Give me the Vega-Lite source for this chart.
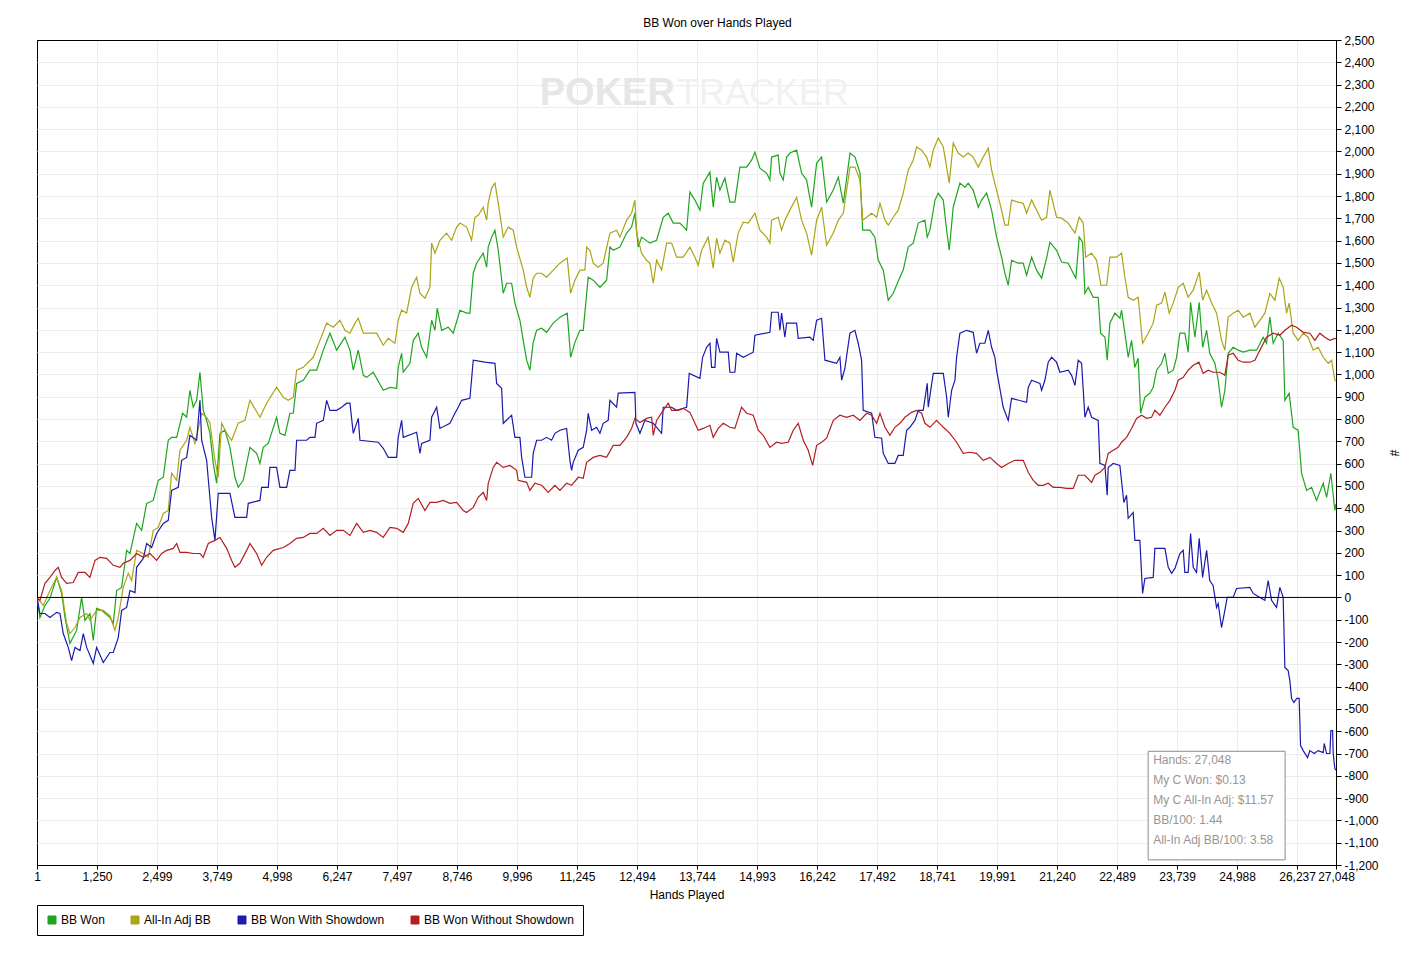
{
"$schema": "https://vega.github.io/schema/vega-lite/v6.json",
"width": 1299,
"height": 825,
"autosize": {"type": "none"},
"padding": {"left": 37, "top": 40, "right": 87, "bottom": 91},
"background": "white",
"title": {"text": "BB Won over Hands Played", "fontSize": 12, "fontWeight": "normal", "font": "Liberation Sans", "color": "black", "offset": 4, "dx": 31},
"config": {
  "view": {"stroke": "black", "strokeWidth": 1},
  "font": "Liberation Sans",
  "axis": {"labelFont": "Liberation Sans", "titleFont": "Liberation Sans", "labelFontSize": 12, "titleFontSize": 12, "titleFontWeight": "normal", "labelColor": "black", "titleColor": "black", "domainColor": "black", "tickColor": "black", "gridWidth": 1, "labelOverlap": false, "labelFlush": false, "labelBound": false}
},
"datasets": {
"g": [{"h":1,"v":0},{"h":62,"v":-90},{"h":167,"v":-36},{"h":271,"v":-4},{"h":410,"v":90},{"h":514,"v":18},{"h":583,"v":-90},{"h":687,"v":-206},{"h":826,"v":-148},{"h":930,"v":0},{"h":999,"v":-103},{"h":1103,"v":-72},{"h":1173,"v":-193},{"h":1242,"v":-49},{"h":1347,"v":-58},{"h":1520,"v":-90},{"h":1589,"v":-117},{"h":1659,"v":31},{"h":1763,"v":45},{"h":1867,"v":211},{"h":1936,"v":197},{"h":2075,"v":332},{"h":2179,"v":301},{"h":2284,"v":422},{"h":2422,"v":435},{"h":2526,"v":525},{"h":2630,"v":539},{"h":2734,"v":705},{"h":2804,"v":718},{"h":2909,"v":718},{"h":3033,"v":826},{"h":3117,"v":808},{"h":3185,"v":929},{"h":3254,"v":853},{"h":3325,"v":884},{"h":3394,"v":1010},{"h":3462,"v":839},{"h":3533,"v":794},{"h":3602,"v":736},{"h":3671,"v":601},{"h":3741,"v":512},{"h":3810,"v":736},{"h":3914,"v":750},{"h":4018,"v":673},{"h":4122,"v":539},{"h":4191,"v":494},{"h":4295,"v":525},{"h":4435,"v":673},{"h":4574,"v":646},{"h":4643,"v":601},{"h":4712,"v":673},{"h":4816,"v":691},{"h":4990,"v":808},{"h":5059,"v":736},{"h":5163,"v":727},{"h":5267,"v":826},{"h":5337,"v":826},{"h":5407,"v":960},{"h":5545,"v":974},{"h":5684,"v":1019},{"h":5824,"v":1019},{"h":5962,"v":1109},{"h":6100,"v":1185},{"h":6240,"v":1109},{"h":6413,"v":1167},{"h":6517,"v":1109},{"h":6586,"v":1019},{"h":6690,"v":1109},{"h":6795,"v":996},{"h":6864,"v":987},{"h":7002,"v":1010},{"h":7210,"v":929},{"h":7350,"v":942},{"h":7489,"v":938},{"h":7522,"v":1032},{"h":7593,"v":1095},{"h":7627,"v":1010},{"h":7766,"v":1050},{"h":7835,"v":1153},{"h":7939,"v":1185},{"h":8009,"v":1122},{"h":8114,"v":1077},{"h":8218,"v":1243},{"h":8286,"v":1198},{"h":8334,"v":1297},{"h":8426,"v":1198},{"h":8563,"v":1212},{"h":8667,"v":1185},{"h":8807,"v":1288},{"h":8946,"v":1275},{"h":9015,"v":1275},{"h":9084,"v":1454},{"h":9154,"v":1499},{"h":9292,"v":1544},{"h":9363,"v":1481},{"h":9396,"v":1571},{"h":9467,"v":1616},{"h":9536,"v":1647},{"h":9605,"v":1557},{"h":9709,"v":1364},{"h":9779,"v":1409},{"h":9883,"v":1409},{"h":9952,"v":1320},{"h":10056,"v":1243},{"h":10125,"v":1153},{"h":10196,"v":1064},{"h":10264,"v":1019},{"h":10333,"v":1144},{"h":10404,"v":1198},{"h":10508,"v":1207},{"h":10612,"v":1189},{"h":10750,"v":1230},{"h":10889,"v":1257},{"h":11041,"v":1275},{"h":11112,"v":1077},{"h":11201,"v":1144},{"h":11305,"v":1198},{"h":11374,"v":1198},{"h":11478,"v":1436},{"h":11582,"v":1423},{"h":11722,"v":1391},{"h":11861,"v":1423},{"h":11930,"v":1571},{"h":11999,"v":1557},{"h":12138,"v":1571},{"h":12277,"v":1634},{"h":12381,"v":1661},{"h":12450,"v":1723},{"h":12519,"v":1571},{"h":12589,"v":1616},{"h":12763,"v":1589},{"h":12902,"v":1602},{"h":13040,"v":1705},{"h":13144,"v":1723},{"h":13248,"v":1679},{"h":13387,"v":1679},{"h":13527,"v":1647},{"h":13595,"v":1818},{"h":13700,"v":1782},{"h":13804,"v":1737},{"h":13873,"v":1858},{"h":14012,"v":1907},{"h":14081,"v":1750},{"h":14151,"v":1885},{"h":14220,"v":1827},{"h":14324,"v":1881},{"h":14428,"v":1773},{"h":14532,"v":1773},{"h":14636,"v":1930},{"h":14776,"v":1930},{"h":14880,"v":1961},{"h":14949,"v":1997},{"h":15053,"v":1925},{"h":15192,"v":1903},{"h":15261,"v":1872},{"h":15296,"v":1975},{"h":15434,"v":1984},{"h":15469,"v":1903},{"h":15538,"v":1872},{"h":15609,"v":1975},{"h":15677,"v":1993},{"h":15817,"v":2006},{"h":15921,"v":1903},{"h":16025,"v":1872},{"h":16129,"v":1750},{"h":16234,"v":1948},{"h":16338,"v":1975},{"h":16442,"v":1773},{"h":16581,"v":1827},{"h":16685,"v":1885},{"h":16789,"v":1768},{"h":16929,"v":1993},{"h":17033,"v":1975},{"h":17137,"v":1903},{"h":17193,"v":1647},{"h":17343,"v":1647},{"h":17447,"v":1616},{"h":17516,"v":1513},{"h":17621,"v":1468},{"h":17725,"v":1333},{"h":17829,"v":1364},{"h":17968,"v":1436},{"h":18037,"v":1468},{"h":18141,"v":1571},{"h":18245,"v":1589},{"h":18350,"v":1679},{"h":18488,"v":1692},{"h":18537,"v":1616},{"h":18593,"v":1647},{"h":18698,"v":1782},{"h":18766,"v":1813},{"h":18871,"v":1782},{"h":18941,"v":1647},{"h":18995,"v":1557},{"h":19078,"v":1750},{"h":19217,"v":1858},{"h":19322,"v":1840},{"h":19390,"v":1858},{"h":19494,"v":1827},{"h":19599,"v":1750},{"h":19669,"v":1782},{"h":19773,"v":1813},{"h":19877,"v":1737},{"h":19981,"v":1616},{"h":20085,"v":1526},{"h":20154,"v":1454},{"h":20223,"v":1400},{"h":20293,"v":1512},{"h":20431,"v":1499},{"h":20535,"v":1499},{"h":20606,"v":1445},{"h":20710,"v":1526},{"h":20814,"v":1468},{"h":20918,"v":1432},{"h":21022,"v":1522},{"h":21091,"v":1593},{"h":21230,"v":1557},{"h":21334,"v":1504},{"h":21473,"v":1499},{"h":21577,"v":1454},{"h":21632,"v":1432},{"h":21701,"v":1616},{"h":21772,"v":1593},{"h":21820,"v":1364},{"h":21889,"v":1391},{"h":21993,"v":1346},{"h":22097,"v":1346},{"h":22147,"v":1185},{"h":22238,"v":1167},{"h":22284,"v":1064},{"h":22340,"v":1230},{"h":22444,"v":1275},{"h":22548,"v":1252},{"h":22583,"v":1288},{"h":22652,"v":1185},{"h":22721,"v":1077},{"h":22791,"v":1153},{"h":22860,"v":1032},{"h":22929,"v":1073},{"h":22980,"v":826},{"h":23069,"v":898},{"h":23173,"v":916},{"h":23242,"v":942},{"h":23313,"v":1019},{"h":23417,"v":1050},{"h":23486,"v":1095},{"h":23555,"v":1005},{"h":23659,"v":1019},{"h":23729,"v":1077},{"h":23797,"v":1185},{"h":23901,"v":1185},{"h":23970,"v":1100},{"h":24020,"v":1324},{"h":24110,"v":1167},{"h":24200,"v":1324},{"h":24271,"v":1122},{"h":24354,"v":1198},{"h":24419,"v":1095},{"h":24526,"v":1050},{"h":24595,"v":974},{"h":24665,"v":853},{"h":24734,"v":929},{"h":24803,"v":1095},{"h":24907,"v":1122},{"h":25011,"v":1109},{"h":25115,"v":1100},{"h":25255,"v":1109},{"h":25394,"v":1109},{"h":25532,"v":1167},{"h":25602,"v":1140},{"h":25671,"v":1257},{"h":25740,"v":1140},{"h":25844,"v":1185},{"h":25948,"v":1153},{"h":25983,"v":884},{"h":26073,"v":916},{"h":26156,"v":763},{"h":26260,"v":750},{"h":26331,"v":557},{"h":26435,"v":480},{"h":26539,"v":494},{"h":26643,"v":435},{"h":26782,"v":512},{"h":26852,"v":449},{"h":26941,"v":557},{"h":27024,"v":390},{"h":27048,"v":420}],
"a": [{"h":1,"v":0},{"h":132,"v":-36},{"h":271,"v":31},{"h":410,"v":90},{"h":514,"v":31},{"h":618,"v":-117},{"h":687,"v":-162},{"h":792,"v":-135},{"h":896,"v":-90},{"h":1035,"v":-72},{"h":1103,"v":-103},{"h":1242,"v":-58},{"h":1381,"v":-58},{"h":1520,"v":-81},{"h":1624,"v":-148},{"h":1693,"v":-90},{"h":1797,"v":45},{"h":1901,"v":108},{"h":1971,"v":76},{"h":2075,"v":211},{"h":2214,"v":197},{"h":2318,"v":180},{"h":2422,"v":301},{"h":2526,"v":314},{"h":2630,"v":377},{"h":2734,"v":390},{"h":2804,"v":557},{"h":2909,"v":525},{"h":2978,"v":660},{"h":3117,"v":705},{"h":3185,"v":763},{"h":3290,"v":691},{"h":3429,"v":826},{"h":3533,"v":808},{"h":3602,"v":781},{"h":3706,"v":615},{"h":3775,"v":539},{"h":3846,"v":781},{"h":3950,"v":736},{"h":4054,"v":705},{"h":4191,"v":781},{"h":4331,"v":794},{"h":4435,"v":884},{"h":4643,"v":808},{"h":4782,"v":871},{"h":4990,"v":943},{"h":5128,"v":898},{"h":5232,"v":884},{"h":5337,"v":898},{"h":5407,"v":1019},{"h":5545,"v":1032},{"h":5753,"v":1077},{"h":5892,"v":1153},{"h":6032,"v":1230},{"h":6169,"v":1212},{"h":6308,"v":1243},{"h":6413,"v":1198},{"h":6517,"v":1185},{"h":6621,"v":1230},{"h":6690,"v":1252},{"h":6795,"v":1185},{"h":6933,"v":1185},{"h":7073,"v":1185},{"h":7210,"v":1131},{"h":7314,"v":1162},{"h":7454,"v":1140},{"h":7522,"v":1243},{"h":7593,"v":1288},{"h":7697,"v":1275},{"h":7801,"v":1391},{"h":7905,"v":1436},{"h":7974,"v":1364},{"h":8078,"v":1342},{"h":8182,"v":1391},{"h":8218,"v":1589},{"h":8286,"v":1544},{"h":8390,"v":1602},{"h":8530,"v":1634},{"h":8634,"v":1602},{"h":8738,"v":1661},{"h":8807,"v":1679},{"h":8946,"v":1661},{"h":9050,"v":1602},{"h":9119,"v":1705},{"h":9188,"v":1714},{"h":9292,"v":1750},{"h":9363,"v":1692},{"h":9396,"v":1768},{"h":9467,"v":1836},{"h":9536,"v":1858},{"h":9605,"v":1768},{"h":9709,"v":1616},{"h":9813,"v":1661},{"h":9917,"v":1647},{"h":9987,"v":1571},{"h":10125,"v":1468},{"h":10196,"v":1391},{"h":10264,"v":1346},{"h":10333,"v":1432},{"h":10404,"v":1454},{"h":10508,"v":1454},{"h":10612,"v":1436},{"h":10750,"v":1468},{"h":10889,"v":1499},{"h":11041,"v":1522},{"h":11112,"v":1364},{"h":11201,"v":1423},{"h":11305,"v":1468},{"h":11409,"v":1468},{"h":11445,"v":1571},{"h":11514,"v":1557},{"h":11582,"v":1499},{"h":11686,"v":1481},{"h":11790,"v":1499},{"h":11930,"v":1634},{"h":12069,"v":1647},{"h":12138,"v":1616},{"h":12277,"v":1692},{"h":12381,"v":1723},{"h":12450,"v":1782},{"h":12486,"v":1634},{"h":12589,"v":1544},{"h":12694,"v":1512},{"h":12763,"v":1499},{"h":12832,"v":1409},{"h":12902,"v":1512},{"h":13006,"v":1468},{"h":13110,"v":1589},{"h":13215,"v":1589},{"h":13319,"v":1526},{"h":13456,"v":1526},{"h":13595,"v":1571},{"h":13700,"v":1526},{"h":13768,"v":1490},{"h":13839,"v":1557},{"h":13976,"v":1616},{"h":14081,"v":1477},{"h":14151,"v":1611},{"h":14220,"v":1544},{"h":14324,"v":1602},{"h":14428,"v":1589},{"h":14497,"v":1504},{"h":14601,"v":1634},{"h":14706,"v":1683},{"h":14810,"v":1679},{"h":14949,"v":1723},{"h":15053,"v":1647},{"h":15192,"v":1616},{"h":15261,"v":1589},{"h":15296,"v":1692},{"h":15434,"v":1705},{"h":15504,"v":1647},{"h":15573,"v":1692},{"h":15677,"v":1737},{"h":15817,"v":1795},{"h":15921,"v":1692},{"h":16025,"v":1634},{"h":16129,"v":1535},{"h":16234,"v":1692},{"h":16338,"v":1750},{"h":16442,"v":1580},{"h":16581,"v":1634},{"h":16685,"v":1692},{"h":16789,"v":1723},{"h":16929,"v":1930},{"h":17033,"v":1930},{"h":17137,"v":1872},{"h":17193,"v":1692},{"h":17276,"v":1705},{"h":17380,"v":1723},{"h":17484,"v":1705},{"h":17553,"v":1768},{"h":17657,"v":1692},{"h":17725,"v":1670},{"h":17829,"v":1705},{"h":17933,"v":1737},{"h":18037,"v":1813},{"h":18141,"v":1916},{"h":18245,"v":1961},{"h":18316,"v":2020},{"h":18420,"v":2006},{"h":18524,"v":1975},{"h":18593,"v":1930},{"h":18662,"v":2006},{"h":18766,"v":2060},{"h":18871,"v":2020},{"h":18941,"v":1930},{"h":18995,"v":1858},{"h":19078,"v":2038},{"h":19183,"v":1993},{"h":19287,"v":1975},{"h":19390,"v":1993},{"h":19494,"v":1975},{"h":19599,"v":1930},{"h":19703,"v":1975},{"h":19808,"v":2015},{"h":19877,"v":1916},{"h":19981,"v":1827},{"h":20085,"v":1737},{"h":20154,"v":1670},{"h":20223,"v":1670},{"h":20293,"v":1782},{"h":20431,"v":1773},{"h":20535,"v":1768},{"h":20606,"v":1723},{"h":20710,"v":1782},{"h":20814,"v":1737},{"h":20918,"v":1692},{"h":21022,"v":1705},{"h":21091,"v":1827},{"h":21230,"v":1705},{"h":21334,"v":1701},{"h":21473,"v":1679},{"h":21612,"v":1634},{"h":21701,"v":1705},{"h":21785,"v":1679},{"h":21835,"v":1526},{"h":21960,"v":1544},{"h":22064,"v":1512},{"h":22154,"v":1400},{"h":22273,"v":1400},{"h":22340,"v":1526},{"h":22479,"v":1526},{"h":22583,"v":1544},{"h":22652,"v":1436},{"h":22721,"v":1346},{"h":22825,"v":1333},{"h":22929,"v":1346},{"h":23021,"v":1140},{"h":23138,"v":1185},{"h":23242,"v":1230},{"h":23313,"v":1311},{"h":23417,"v":1320},{"h":23486,"v":1369},{"h":23575,"v":1275},{"h":23659,"v":1320},{"h":23763,"v":1391},{"h":23867,"v":1409},{"h":23970,"v":1346},{"h":24075,"v":1378},{"h":24200,"v":1459},{"h":24271,"v":1333},{"h":24354,"v":1378},{"h":24458,"v":1320},{"h":24562,"v":1275},{"h":24665,"v":1153},{"h":24734,"v":1109},{"h":24803,"v":1257},{"h":24907,"v":1275},{"h":25011,"v":1288},{"h":25115,"v":1257},{"h":25255,"v":1275},{"h":25359,"v":1212},{"h":25463,"v":1243},{"h":25567,"v":1275},{"h":25671,"v":1364},{"h":25775,"v":1333},{"h":25865,"v":1432},{"h":25948,"v":1391},{"h":26018,"v":1275},{"h":26073,"v":1320},{"h":26156,"v":1185},{"h":26260,"v":1153},{"h":26365,"v":1185},{"h":26469,"v":1167},{"h":26573,"v":1109},{"h":26677,"v":1122},{"h":26782,"v":1077},{"h":26886,"v":1050},{"h":26956,"v":1064},{"h":27024,"v":974},{"h":27048,"v":970}],
"b": [{"h":1,"v":0},{"h":62,"v":-72},{"h":167,"v":-72},{"h":271,"v":-90},{"h":410,"v":-67},{"h":479,"v":-72},{"h":548,"v":-162},{"h":652,"v":-224},{"h":722,"v":-283},{"h":792,"v":-224},{"h":896,"v":-238},{"h":965,"v":-162},{"h":1035,"v":-224},{"h":1173,"v":-296},{"h":1242,"v":-224},{"h":1381,"v":-292},{"h":1520,"v":-247},{"h":1589,"v":-247},{"h":1693,"v":-180},{"h":1763,"v":-58},{"h":1867,"v":-45},{"h":1936,"v":31},{"h":2041,"v":22},{"h":2075,"v":135},{"h":2214,"v":175},{"h":2284,"v":242},{"h":2388,"v":224},{"h":2492,"v":287},{"h":2630,"v":332},{"h":2734,"v":346},{"h":2804,"v":480},{"h":2942,"v":494},{"h":3013,"v":615},{"h":3117,"v":628},{"h":3185,"v":727},{"h":3325,"v":705},{"h":3394,"v":884},{"h":3429,"v":705},{"h":3533,"v":615},{"h":3637,"v":359},{"h":3706,"v":256},{"h":3775,"v":467},{"h":4018,"v":467},{"h":4122,"v":359},{"h":4366,"v":359},{"h":4400,"v":422},{"h":4643,"v":435},{"h":4678,"v":494},{"h":4816,"v":494},{"h":4851,"v":583},{"h":4990,"v":583},{"h":5059,"v":494},{"h":5199,"v":494},{"h":5267,"v":570},{"h":5372,"v":570},{"h":5407,"v":705},{"h":5615,"v":705},{"h":5684,"v":718},{"h":5788,"v":718},{"h":5824,"v":781},{"h":5962,"v":794},{"h":6032,"v":884},{"h":6100,"v":839},{"h":6240,"v":839},{"h":6344,"v":853},{"h":6448,"v":871},{"h":6517,"v":871},{"h":6586,"v":736},{"h":6690,"v":803},{"h":6725,"v":705},{"h":7107,"v":696},{"h":7210,"v":669},{"h":7314,"v":628},{"h":7489,"v":628},{"h":7522,"v":718},{"h":7593,"v":794},{"h":7627,"v":718},{"h":7905,"v":741},{"h":7974,"v":646},{"h":8009,"v":691},{"h":8182,"v":705},{"h":8218,"v":808},{"h":8322,"v":853},{"h":8390,"v":758},{"h":8599,"v":781},{"h":8703,"v":826},{"h":8772,"v":853},{"h":8842,"v":884},{"h":9015,"v":893},{"h":9084,"v":1064},{"h":9328,"v":1055},{"h":9536,"v":1050},{"h":9571,"v":960},{"h":9675,"v":938},{"h":9709,"v":781},{"h":9883,"v":817},{"h":9952,"v":718},{"h":10056,"v":718},{"h":10092,"v":628},{"h":10160,"v":539},{"h":10300,"v":539},{"h":10333,"v":646},{"h":10404,"v":705},{"h":10508,"v":705},{"h":10612,"v":718},{"h":10716,"v":705},{"h":10785,"v":736},{"h":10889,"v":750},{"h":11028,"v":758},{"h":11097,"v":615},{"h":11132,"v":570},{"h":11166,"v":606},{"h":11271,"v":660},{"h":11374,"v":673},{"h":11445,"v":750},{"h":11478,"v":826},{"h":11549,"v":750},{"h":11653,"v":763},{"h":11722,"v":736},{"h":11790,"v":781},{"h":11894,"v":794},{"h":11930,"v":884},{"h":12069,"v":853},{"h":12103,"v":916},{"h":12450,"v":920},{"h":12471,"v":781},{"h":12555,"v":736},{"h":12659,"v":794},{"h":12832,"v":781},{"h":13006,"v":736},{"h":13040,"v":853},{"h":13215,"v":853},{"h":13319,"v":839},{"h":13527,"v":853},{"h":13581,"v":1005},{"h":13804,"v":983},{"h":13860,"v":1077},{"h":13943,"v":1122},{"h":14012,"v":1140},{"h":14047,"v":1032},{"h":14116,"v":1032},{"h":14151,"v":1162},{"h":14220,"v":1100},{"h":14394,"v":1100},{"h":14428,"v":1010},{"h":14532,"v":1010},{"h":14568,"v":1095},{"h":14706,"v":1077},{"h":14914,"v":1100},{"h":14949,"v":1176},{"h":15261,"v":1189},{"h":15296,"v":1279},{"h":15434,"v":1279},{"h":15469,"v":1198},{"h":15504,"v":1275},{"h":15573,"v":1167},{"h":15609,"v":1230},{"h":15817,"v":1230},{"h":15851,"v":1162},{"h":16095,"v":1167},{"h":16162,"v":1153},{"h":16234,"v":1243},{"h":16338,"v":1252},{"h":16407,"v":1064},{"h":16650,"v":1050},{"h":16719,"v":1077},{"h":16754,"v":974},{"h":16823,"v":1028},{"h":16927,"v":1185},{"h":17031,"v":1198},{"h":17100,"v":1140},{"h":17170,"v":1064},{"h":17204,"v":839},{"h":17380,"v":826},{"h":17447,"v":718},{"h":17587,"v":714},{"h":17621,"v":646},{"h":17725,"v":601},{"h":17864,"v":601},{"h":17933,"v":637},{"h":18037,"v":637},{"h":18107,"v":750},{"h":18176,"v":763},{"h":18280,"v":794},{"h":18350,"v":839},{"h":18453,"v":839},{"h":18537,"v":960},{"h":18558,"v":853},{"h":18662,"v":1005},{"h":18871,"v":1005},{"h":18941,"v":898},{"h":18975,"v":808},{"h":19045,"v":929},{"h":19114,"v":974},{"h":19148,"v":1077},{"h":19217,"v":1185},{"h":19356,"v":1198},{"h":19494,"v":1189},{"h":19564,"v":1095},{"h":19633,"v":1140},{"h":19737,"v":1140},{"h":19808,"v":1198},{"h":19877,"v":1122},{"h":19946,"v":1077},{"h":19981,"v":1019},{"h":20119,"v":853},{"h":20223,"v":794},{"h":20293,"v":893},{"h":20606,"v":875},{"h":20640,"v":942},{"h":20710,"v":974},{"h":20883,"v":960},{"h":20918,"v":929},{"h":20987,"v":974},{"h":21056,"v":1055},{"h":21126,"v":1077},{"h":21230,"v":1055},{"h":21299,"v":1010},{"h":21473,"v":1019},{"h":21543,"v":996},{"h":21612,"v":951},{"h":21681,"v":1064},{"h":21751,"v":1050},{"h":21820,"v":808},{"h":21889,"v":853},{"h":21959,"v":808},{"h":22097,"v":794},{"h":22132,"v":601},{"h":22236,"v":592},{"h":22284,"v":458},{"h":22305,"v":583},{"h":22409,"v":601},{"h":22548,"v":592},{"h":22631,"v":426},{"h":22687,"v":458},{"h":22721,"v":355},{"h":22825,"v":381},{"h":22860,"v":256},{"h":22964,"v":256},{"h":23021,"v":18},{"h":23069,"v":85},{"h":23242,"v":90},{"h":23277,"v":220},{"h":23486,"v":220},{"h":23555,"v":135},{"h":23625,"v":108},{"h":23694,"v":130},{"h":23797,"v":197},{"h":23867,"v":211},{"h":23901,"v":112},{"h":23970,"v":112},{"h":24020,"v":287},{"h":24075,"v":135},{"h":24144,"v":112},{"h":24200,"v":265},{"h":24271,"v":90},{"h":24354,"v":211},{"h":24419,"v":76},{"h":24489,"v":54},{"h":24561,"v":-45},{"h":24595,"v":-27},{"h":24665,"v":-135},{"h":24734,"v":-58},{"h":24783,"v":0},{"h":24907,"v":0},{"h":24977,"v":40},{"h":25255,"v":45},{"h":25324,"v":18},{"h":25394,"v":9},{"h":25567,"v":-13},{"h":25636,"v":76},{"h":25706,"v":-13},{"h":25810,"v":-45},{"h":25879,"v":45},{"h":25948,"v":0},{"h":25983,"v":-314},{"h":26052,"v":-328},{"h":26087,"v":-373},{"h":26123,"v":-453},{"h":26171,"v":-471},{"h":26233,"v":-453},{"h":26281,"v":-453},{"h":26310,"v":-664},{"h":26365,"v":-687},{"h":26456,"v":-718},{"h":26504,"v":-687},{"h":26594,"v":-700},{"h":26677,"v":-687},{"h":26782,"v":-696},{"h":26803,"v":-655},{"h":26852,"v":-700},{"h":26921,"v":-700},{"h":26941,"v":-597},{"h":26977,"v":-597},{"h":26990,"v":-700},{"h":27024,"v":-767},{"h":27048,"v":-775}],
"r": [{"h":1,"v":0},{"h":62,"v":-13},{"h":167,"v":63},{"h":271,"v":90},{"h":375,"v":121},{"h":444,"v":135},{"h":514,"v":90},{"h":618,"v":63},{"h":756,"v":67},{"h":860,"v":112},{"h":999,"v":112},{"h":1103,"v":90},{"h":1208,"v":166},{"h":1312,"v":180},{"h":1451,"v":175},{"h":1589,"v":144},{"h":1728,"v":135},{"h":1797,"v":153},{"h":1936,"v":166},{"h":2075,"v":197},{"h":2214,"v":180},{"h":2353,"v":197},{"h":2492,"v":166},{"h":2596,"v":197},{"h":2700,"v":211},{"h":2838,"v":220},{"h":2909,"v":242},{"h":2978,"v":202},{"h":3117,"v":202},{"h":3254,"v":197},{"h":3394,"v":197},{"h":3462,"v":180},{"h":3567,"v":242},{"h":3706,"v":256},{"h":3810,"v":269},{"h":3950,"v":220},{"h":4054,"v":166},{"h":4122,"v":135},{"h":4226,"v":153},{"h":4366,"v":211},{"h":4435,"v":242},{"h":4574,"v":197},{"h":4678,"v":144},{"h":4782,"v":180},{"h":4920,"v":211},{"h":5128,"v":224},{"h":5267,"v":242},{"h":5407,"v":265},{"h":5545,"v":269},{"h":5684,"v":287},{"h":5824,"v":287},{"h":5962,"v":310},{"h":6100,"v":278},{"h":6240,"v":301},{"h":6378,"v":301},{"h":6517,"v":278},{"h":6656,"v":332},{"h":6795,"v":292},{"h":6933,"v":301},{"h":7073,"v":292},{"h":7210,"v":269},{"h":7350,"v":314},{"h":7489,"v":310},{"h":7627,"v":292},{"h":7731,"v":332},{"h":7835,"v":422},{"h":7939,"v":444},{"h":8078,"v":390},{"h":8182,"v":426},{"h":8322,"v":426},{"h":8459,"v":435},{"h":8599,"v":422},{"h":8738,"v":426},{"h":8876,"v":390},{"h":8946,"v":381},{"h":9084,"v":404},{"h":9188,"v":449},{"h":9292,"v":471},{"h":9363,"v":435},{"h":9396,"v":512},{"h":9500,"v":583},{"h":9571,"v":606},{"h":9709,"v":583},{"h":9848,"v":592},{"h":9987,"v":570},{"h":10021,"v":525},{"h":10196,"v":516},{"h":10264,"v":480},{"h":10368,"v":512},{"h":10508,"v":503},{"h":10646,"v":471},{"h":10785,"v":503},{"h":10889,"v":480},{"h":11028,"v":512},{"h":11132,"v":503},{"h":11271,"v":539},{"h":11374,"v":534},{"h":11445,"v":606},{"h":11582,"v":628},{"h":11722,"v":637},{"h":11861,"v":628},{"h":11999,"v":682},{"h":12138,"v":682},{"h":12277,"v":718},{"h":12381,"v":758},{"h":12450,"v":803},{"h":12555,"v":785},{"h":12694,"v":803},{"h":12798,"v":808},{"h":12832,"v":727},{"h":12902,"v":794},{"h":13040,"v":839},{"h":13144,"v":871},{"h":13215,"v":839},{"h":13352,"v":839},{"h":13456,"v":848},{"h":13595,"v":830},{"h":13768,"v":750},{"h":13873,"v":758},{"h":14012,"v":772},{"h":14081,"v":718},{"h":14185,"v":758},{"h":14289,"v":781},{"h":14428,"v":763},{"h":14532,"v":758},{"h":14671,"v":853},{"h":14776,"v":826},{"h":14914,"v":817},{"h":15018,"v":750},{"h":15122,"v":727},{"h":15261,"v":673},{"h":15400,"v":696},{"h":15504,"v":691},{"h":15642,"v":696},{"h":15747,"v":750},{"h":15851,"v":781},{"h":15955,"v":705},{"h":16059,"v":660},{"h":16151,"v":592},{"h":16234,"v":682},{"h":16338,"v":696},{"h":16442,"v":714},{"h":16581,"v":794},{"h":16720,"v":817},{"h":16858,"v":808},{"h":16997,"v":817},{"h":17135,"v":794},{"h":17276,"v":826},{"h":17380,"v":817},{"h":17484,"v":781},{"h":17553,"v":826},{"h":17657,"v":763},{"h":17760,"v":727},{"h":17864,"v":763},{"h":17968,"v":781},{"h":18072,"v":808},{"h":18211,"v":830},{"h":18316,"v":839},{"h":18420,"v":826},{"h":18488,"v":781},{"h":18593,"v":763},{"h":18731,"v":794},{"h":18871,"v":763},{"h":19009,"v":736},{"h":19148,"v":696},{"h":19287,"v":646},{"h":19425,"v":651},{"h":19564,"v":646},{"h":19703,"v":615},{"h":19842,"v":628},{"h":19981,"v":601},{"h":20085,"v":583},{"h":20223,"v":601},{"h":20362,"v":615},{"h":20535,"v":615},{"h":20640,"v":561},{"h":20744,"v":525},{"h":20848,"v":503},{"h":20952,"v":503},{"h":21056,"v":512},{"h":21160,"v":494},{"h":21299,"v":494},{"h":21438,"v":489},{"h":21577,"v":489},{"h":21681,"v":548},{"h":21820,"v":548},{"h":21959,"v":516},{"h":22029,"v":548},{"h":22132,"v":561},{"h":22236,"v":583},{"h":22305,"v":646},{"h":22409,"v":660},{"h":22513,"v":673},{"h":22583,"v":696},{"h":22687,"v":718},{"h":22791,"v":758},{"h":22895,"v":803},{"h":22999,"v":817},{"h":23104,"v":803},{"h":23208,"v":808},{"h":23277,"v":839},{"h":23381,"v":817},{"h":23486,"v":853},{"h":23590,"v":884},{"h":23694,"v":929},{"h":23763,"v":974},{"h":23867,"v":987},{"h":23970,"v":1019},{"h":24075,"v":1041},{"h":24193,"v":1055},{"h":24283,"v":1005},{"h":24388,"v":1019},{"h":24492,"v":1010},{"h":24631,"v":1010},{"h":24734,"v":996},{"h":24803,"v":1086},{"h":24907,"v":1095},{"h":25011,"v":1064},{"h":25115,"v":1055},{"h":25255,"v":1055},{"h":25359,"v":1064},{"h":25463,"v":1109},{"h":25602,"v":1167},{"h":25740,"v":1185},{"h":25879,"v":1176},{"h":25983,"v":1198},{"h":26123,"v":1221},{"h":26227,"v":1212},{"h":26365,"v":1189},{"h":26504,"v":1185},{"h":26608,"v":1153},{"h":26712,"v":1185},{"h":26816,"v":1167},{"h":26921,"v":1153},{"h":27024,"v":1162},{"h":27048,"v":1160}],
"one": [{}]
},
"layer": [
 {
  "data": {"name": "g"},
  "mark": {"type": "line", "strokeWidth": 1.2, "clip": true},
  "encoding": {
   "x": {"field": "h", "type": "quantitative", "scale": {"domain": [1, 27048], "nice": false, "zero": false},
     "axis": {"title": "Hands Played", "values": [1,1250,2499,3749,4998,6247,7497,8746,9996,11245,12494,13744,14993,16242,17492,18741,19991,21240,22489,23739,24988,26237,27048], "format": ",", "labelExpr": "format(datum.value, ',')", "labelOverlap": false, "grid": true, "gridColor": {"condition": {"test": "datum.value <= 1 || datum.value >= 27048", "value": "black"}, "value": "#ececec"}, "tickSize": 4, "labelPadding": 2, "titlePadding": 7}},
   "y": {"field": "v", "type": "quantitative", "scale": {"domain": [-1200, 2500], "nice": false, "zero": false},
     "axis": {"title": "#", "orient": "right", "values": [-1200,-1100,-1000,-900,-800,-700,-600,-500,-400,-300,-200,-100,0,100,200,300,400,500,600,700,800,900,1000,1100,1200,1300,1400,1500,1600,1700,1800,1900,2000,2100,2200,2300,2400,2500], "labelExpr": "(datum.value < 0 ? '-' : '') + format(abs(datum.value), ',')", "labelOverlap": false, "grid": true, "gridColor": {"condition": {"test": "datum.value >= 2500 || datum.value <= -1200", "value": "black"}, "value": "#ececec"}, "tickSize": 5, "labelPadding": 3, "titlePadding": 8, "titleAngle": 90}},
   "color": {"datum": "BB Won", "type": "nominal",
     "scale": {"domain": ["BB Won", "All-In Adj BB", "BB Won With Showdown", "BB Won Without Showdown"], "range": ["#1ea51e", "#aba415", "#1a1aaf", "#b31e1e"]},
     "legend": {"title": null, "orient": "none", "legendX": 0, "legendY": 865, "direction": "horizontal", "columns": 4, "gridAlign": "none", "strokeColor": "black", "fillColor": "white", "padding": 9, "symbolType": "square", "symbolSize": 64, "labelFontSize": 12, "labelFont": "Liberation Sans", "labelColor": "black", "labelOffset": 3, "columnPadding": 24,
       "encode": {"symbols": {"update": {"fill": {"scale": "color", "field": "value"}, "stroke": {"value": "black"}, "strokeWidth": {"value": 1}, "shape": {"value": "square"}, "opacity": {"value": 1}}}}}}
  }
 },
 {
  "data": {"name": "a"},
  "mark": {"type": "line", "strokeWidth": 1.2, "clip": true},
  "encoding": {
   "x": {"field": "h", "type": "quantitative", "scale": {"domain": [1, 27048], "nice": false, "zero": false},
     "axis": {"title": "Hands Played", "values": [1,1250,2499,3749,4998,6247,7497,8746,9996,11245,12494,13744,14993,16242,17492,18741,19991,21240,22489,23739,24988,26237,27048], "format": ",", "labelExpr": "format(datum.value, ',')", "labelOverlap": false, "grid": true, "gridColor": {"condition": {"test": "datum.value <= 1 || datum.value >= 27048", "value": "black"}, "value": "#ececec"}, "tickSize": 4, "labelPadding": 2, "titlePadding": 7}},
   "y": {"field": "v", "type": "quantitative", "scale": {"domain": [-1200, 2500], "nice": false, "zero": false},
     "axis": {"title": "#", "orient": "right", "values": [-1200,-1100,-1000,-900,-800,-700,-600,-500,-400,-300,-200,-100,0,100,200,300,400,500,600,700,800,900,1000,1100,1200,1300,1400,1500,1600,1700,1800,1900,2000,2100,2200,2300,2400,2500], "labelExpr": "(datum.value < 0 ? '-' : '') + format(abs(datum.value), ',')", "labelOverlap": false, "grid": true, "gridColor": {"condition": {"test": "datum.value >= 2500 || datum.value <= -1200", "value": "black"}, "value": "#ececec"}, "tickSize": 5, "labelPadding": 3, "titlePadding": 8, "titleAngle": 90}},
   "color": {"datum": "All-In Adj BB", "type": "nominal"}
  }
 },
 {
  "data": {"name": "b"},
  "mark": {"type": "line", "strokeWidth": 1.2, "clip": true},
  "encoding": {
   "x": {"field": "h", "type": "quantitative", "scale": {"domain": [1, 27048], "nice": false, "zero": false},
     "axis": {"title": "Hands Played", "values": [1,1250,2499,3749,4998,6247,7497,8746,9996,11245,12494,13744,14993,16242,17492,18741,19991,21240,22489,23739,24988,26237,27048], "format": ",", "labelExpr": "format(datum.value, ',')", "labelOverlap": false, "grid": true, "gridColor": {"condition": {"test": "datum.value <= 1 || datum.value >= 27048", "value": "black"}, "value": "#ececec"}, "tickSize": 4, "labelPadding": 2, "titlePadding": 7}},
   "y": {"field": "v", "type": "quantitative", "scale": {"domain": [-1200, 2500], "nice": false, "zero": false},
     "axis": {"title": "#", "orient": "right", "values": [-1200,-1100,-1000,-900,-800,-700,-600,-500,-400,-300,-200,-100,0,100,200,300,400,500,600,700,800,900,1000,1100,1200,1300,1400,1500,1600,1700,1800,1900,2000,2100,2200,2300,2400,2500], "labelExpr": "(datum.value < 0 ? '-' : '') + format(abs(datum.value), ',')", "labelOverlap": false, "grid": true, "gridColor": {"condition": {"test": "datum.value >= 2500 || datum.value <= -1200", "value": "black"}, "value": "#ececec"}, "tickSize": 5, "labelPadding": 3, "titlePadding": 8, "titleAngle": 90}},
   "color": {"datum": "BB Won With Showdown", "type": "nominal"}
  }
 },
 {
  "data": {"name": "r"},
  "mark": {"type": "line", "strokeWidth": 1.2, "clip": true},
  "encoding": {
   "x": {"field": "h", "type": "quantitative", "scale": {"domain": [1, 27048], "nice": false, "zero": false},
     "axis": {"title": "Hands Played", "values": [1,1250,2499,3749,4998,6247,7497,8746,9996,11245,12494,13744,14993,16242,17492,18741,19991,21240,22489,23739,24988,26237,27048], "format": ",", "labelExpr": "format(datum.value, ',')", "labelOverlap": false, "grid": true, "gridColor": {"condition": {"test": "datum.value <= 1 || datum.value >= 27048", "value": "black"}, "value": "#ececec"}, "tickSize": 4, "labelPadding": 2, "titlePadding": 7}},
   "y": {"field": "v", "type": "quantitative", "scale": {"domain": [-1200, 2500], "nice": false, "zero": false},
     "axis": {"title": "#", "orient": "right", "values": [-1200,-1100,-1000,-900,-800,-700,-600,-500,-400,-300,-200,-100,0,100,200,300,400,500,600,700,800,900,1000,1100,1200,1300,1400,1500,1600,1700,1800,1900,2000,2100,2200,2300,2400,2500], "labelExpr": "(datum.value < 0 ? '-' : '') + format(abs(datum.value), ',')", "labelOverlap": false, "grid": true, "gridColor": {"condition": {"test": "datum.value >= 2500 || datum.value <= -1200", "value": "black"}, "value": "#ececec"}, "tickSize": 5, "labelPadding": 3, "titlePadding": 8, "titleAngle": 90}},
   "color": {"datum": "BB Won Without Showdown", "type": "nominal"}
  }
 },
 {
  "data": {"name": "one"},
  "mark": {"type": "rule", "color": "black", "strokeWidth": 1},
  "encoding": {
   "y": {"datum": 0, "type": "quantitative", "scale": {"domain": [-1200, 2500], "nice": false, "zero": false},
     "axis": {"title": "#", "orient": "right", "values": [-1200,-1100,-1000,-900,-800,-700,-600,-500,-400,-300,-200,-100,0,100,200,300,400,500,600,700,800,900,1000,1100,1200,1300,1400,1500,1600,1700,1800,1900,2000,2100,2200,2300,2400,2500], "labelExpr": "(datum.value < 0 ? '-' : '') + format(abs(datum.value), ',')", "labelOverlap": false, "grid": true, "gridColor": {"condition": {"test": "datum.value >= 2500 || datum.value <= -1200", "value": "black"}, "value": "#ececec"}, "tickSize": 5, "labelPadding": 3, "titlePadding": 8, "titleAngle": 90}}
  }
 },
 {
  "data": {"name": "one"},
  "mark": {"type": "text", "text": "POKER", "font": "Liberation Sans", "fontWeight": "bold", "fontSize": 38, "color": "#e6e6e6", "align": "right", "baseline": "alphabetic"},
  "encoding": {
   "x": {"datum": 13283, "type": "quantitative", "scale": {"domain": [1, 27048], "nice": false, "zero": false},
     "axis": {"title": "Hands Played", "values": [1,1250,2499,3749,4998,6247,7497,8746,9996,11245,12494,13744,14993,16242,17492,18741,19991,21240,22489,23739,24988,26237,27048], "format": ",", "labelExpr": "format(datum.value, ',')", "labelOverlap": false, "grid": true, "gridColor": {"condition": {"test": "datum.value <= 1 || datum.value >= 27048", "value": "black"}, "value": "#ececec"}, "tickSize": 4, "labelPadding": 2, "titlePadding": 7}},
   "y": {"datum": 2208, "type": "quantitative", "scale": {"domain": [-1200, 2500], "nice": false, "zero": false},
     "axis": {"title": "#", "orient": "right", "values": [-1200,-1100,-1000,-900,-800,-700,-600,-500,-400,-300,-200,-100,0,100,200,300,400,500,600,700,800,900,1000,1100,1200,1300,1400,1500,1600,1700,1800,1900,2000,2100,2200,2300,2400,2500], "labelExpr": "(datum.value < 0 ? '-' : '') + format(abs(datum.value), ',')", "labelOverlap": false, "grid": true, "gridColor": {"condition": {"test": "datum.value >= 2500 || datum.value <= -1200", "value": "black"}, "value": "#ececec"}, "tickSize": 5, "labelPadding": 3, "titlePadding": 8, "titleAngle": 90}}
  }
 },
 {
  "data": {"name": "one"},
  "mark": {"type": "text", "text": "TRACKER", "font": "Liberation Sans", "fontSize": 36, "color": "#f1f1f1", "align": "left", "baseline": "alphabetic"},
  "encoding": {
   "x": {"datum": 13325, "type": "quantitative", "scale": {"domain": [1, 27048], "nice": false, "zero": false},
     "axis": {"title": "Hands Played", "values": [1,1250,2499,3749,4998,6247,7497,8746,9996,11245,12494,13744,14993,16242,17492,18741,19991,21240,22489,23739,24988,26237,27048], "format": ",", "labelExpr": "format(datum.value, ',')", "labelOverlap": false, "grid": true, "gridColor": {"condition": {"test": "datum.value <= 1 || datum.value >= 27048", "value": "black"}, "value": "#ececec"}, "tickSize": 4, "labelPadding": 2, "titlePadding": 7}},
   "y": {"datum": 2208, "type": "quantitative", "scale": {"domain": [-1200, 2500], "nice": false, "zero": false},
     "axis": {"title": "#", "orient": "right", "values": [-1200,-1100,-1000,-900,-800,-700,-600,-500,-400,-300,-200,-100,0,100,200,300,400,500,600,700,800,900,1000,1100,1200,1300,1400,1500,1600,1700,1800,1900,2000,2100,2200,2300,2400,2500], "labelExpr": "(datum.value < 0 ? '-' : '') + format(abs(datum.value), ',')", "labelOverlap": false, "grid": true, "gridColor": {"condition": {"test": "datum.value >= 2500 || datum.value <= -1200", "value": "black"}, "value": "#ececec"}, "tickSize": 5, "labelPadding": 3, "titlePadding": 8, "titleAngle": 90}}
  }
 },
 {
  "data": {"name": "one"},
  "mark": {"type": "rect", "fill": "white", "stroke": "#8c8c8c", "strokeWidth": 1},
  "encoding": {
   "x": {"datum": 23137, "type": "quantitative", "scale": {"domain": [1, 27048], "nice": false, "zero": false},
     "axis": {"title": "Hands Played", "values": [1,1250,2499,3749,4998,6247,7497,8746,9996,11245,12494,13744,14993,16242,17492,18741,19991,21240,22489,23739,24988,26237,27048], "format": ",", "labelExpr": "format(datum.value, ',')", "labelOverlap": false, "grid": true, "gridColor": {"condition": {"test": "datum.value <= 1 || datum.value >= 27048", "value": "black"}, "value": "#ececec"}, "tickSize": 4, "labelPadding": 2, "titlePadding": 7}},
   "x2": {"datum": 25989},
   "y": {"datum": -690, "type": "quantitative", "scale": {"domain": [-1200, 2500], "nice": false, "zero": false},
     "axis": {"title": "#", "orient": "right", "values": [-1200,-1100,-1000,-900,-800,-700,-600,-500,-400,-300,-200,-100,0,100,200,300,400,500,600,700,800,900,1000,1100,1200,1300,1400,1500,1600,1700,1800,1900,2000,2100,2200,2300,2400,2500], "labelExpr": "(datum.value < 0 ? '-' : '') + format(abs(datum.value), ',')", "labelOverlap": false, "grid": true, "gridColor": {"condition": {"test": "datum.value >= 2500 || datum.value <= -1200", "value": "black"}, "value": "#ececec"}, "tickSize": 5, "labelPadding": 3, "titlePadding": 8, "titleAngle": 90}},
   "y2": {"datum": -1177}
  }
 },
 {
  "data": {"name": "one"},
  "mark": {"type": "text", "text": ["Hands: 27,048", "My C Won: $0.13", "My C All-In Adj: $11.57", "BB/100: 1.44", "All-In Adj BB/100: 3.58"], "lineHeight": 20, "font": "Liberation Sans", "fontSize": 12, "color": "#9a9494", "align": "left", "baseline": "top"},
  "encoding": {
   "x": {"datum": 23241, "type": "quantitative", "scale": {"domain": [1, 27048], "nice": false, "zero": false},
     "axis": {"title": "Hands Played", "values": [1,1250,2499,3749,4998,6247,7497,8746,9996,11245,12494,13744,14993,16242,17492,18741,19991,21240,22489,23739,24988,26237,27048], "format": ",", "labelExpr": "format(datum.value, ',')", "labelOverlap": false, "grid": true, "gridColor": {"condition": {"test": "datum.value <= 1 || datum.value >= 27048", "value": "black"}, "value": "#ececec"}, "tickSize": 4, "labelPadding": 2, "titlePadding": 7}},
   "y": {"datum": -705, "type": "quantitative", "scale": {"domain": [-1200, 2500], "nice": false, "zero": false},
     "axis": {"title": "#", "orient": "right", "values": [-1200,-1100,-1000,-900,-800,-700,-600,-500,-400,-300,-200,-100,0,100,200,300,400,500,600,700,800,900,1000,1100,1200,1300,1400,1500,1600,1700,1800,1900,2000,2100,2200,2300,2400,2500], "labelExpr": "(datum.value < 0 ? '-' : '') + format(abs(datum.value), ',')", "labelOverlap": false, "grid": true, "gridColor": {"condition": {"test": "datum.value >= 2500 || datum.value <= -1200", "value": "black"}, "value": "#ececec"}, "tickSize": 5, "labelPadding": 3, "titlePadding": 8, "titleAngle": 90}}
  }
 }
]
}
